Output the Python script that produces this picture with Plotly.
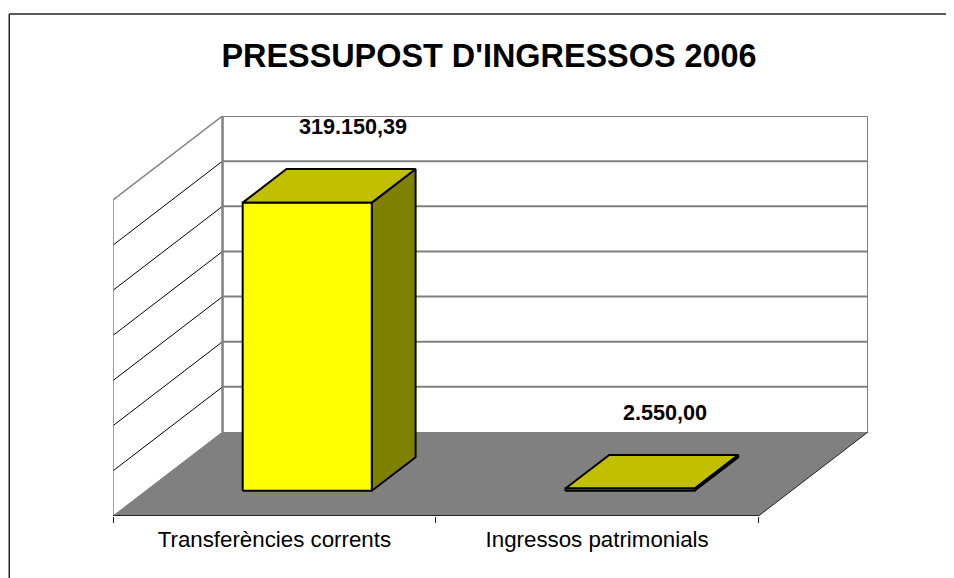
import plotly.graph_objects as go

TITLE = "PRESSUPOST D'INGRESSOS 2006"
CATEGORIES = ["Transferències corrents", "Ingressos patrimonials"]
VALUES = [319150.39, 2550.00]
LABELS = ["319.150,39", "2.550,00"]
GRID_VALUES = [0, 50000, 100000, 150000, 200000, 250000, 300000, 350000]

# the page body adds 8px on the top and left, so the figure is that much smaller
PAGE_MARGIN = 8
W, H = 954 - PAGE_MARGIN, 578 - PAGE_MARGIN
# plot box in pixels: front-left corner of the floor to back-right corner of the walls
LEFT, RIGHT, TOP, BOTTOM = 112.8 - PAGE_MARGIN, 868.3 - PAGE_MARGIN, 116 - PAGE_MARGIN, 516 - PAGE_MARGIN

YMAX = GRID_VALUES[-1]
NCAT = len(CATEGORIES)
# how far one full unit of depth moves a point, in axis units (oblique 3D look)
DEPTH_X = 109.6 / 322.95
DEPTH_Y = 84 / 316 * YMAX
BAR_W = 0.4
BAR_GAP = 0.3

GREY = "#808080"
BLACK = "#000000"


def proj(x, v, z):
    return x + z * DEPTH_X, v + z * DEPTH_Y


def path(points):
    xs, ys = zip(*[proj(*p) for p in points])
    return list(xs), list(ys)


fig = go.Figure()


def add_line(points, color, width):
    xs, ys = path(points)
    fig.add_trace(go.Scatter(x=xs, y=ys, mode="lines", line=dict(color=color, width=width),
                             hoverinfo="skip", showlegend=False, cliponaxis=False))


def add_face(points, fill, line_width=2):
    xs, ys = path(points + points[:1])
    fig.add_trace(go.Scatter(x=xs, y=ys, mode="lines", fill="toself", fillcolor=fill,
                             line=dict(color=BLACK, width=line_width),
                             hoverinfo="skip", showlegend=False, cliponaxis=False))


# floor
xs, ys = path([(0, 0, 0), (NCAT, 0, 0), (NCAT, 0, 1), (0, 0, 1), (0, 0, 0)])
fig.add_trace(go.Scatter(x=xs, y=ys, mode="lines", fill="toself", fillcolor=GREY,
                         line=dict(color=GREY, width=0), hoverinfo="skip",
                         showlegend=False, cliponaxis=False))

# back wall gridlines and side wall gridlines
for v in GRID_VALUES[1:-1]:
    add_line([(0, v, 1), (NCAT, v, 1)], GREY, 2)
    add_line([(0, v, 0), (0, v, 1)], BLACK, 1)
add_line([(0, YMAX, 1), (NCAT, YMAX, 1)], GREY, 2)
add_line([(0, YMAX, 0), (0, YMAX, 1)], GREY, 1.5)
add_line([(0, 0, 0), (0, YMAX, 0)], GREY, 1.5)
add_line([(0, 0, 1), (0, YMAX, 1)], GREY, 2.5)
add_line([(NCAT, 0, 1), (NCAT, YMAX, 1)], GREY, 2)
add_line([(NCAT, 0, 0), (NCAT, 0, 1)], "#222222", 1)
add_line([(0, 0, 0), (0, 0, 1)], GREY, 1)
add_line([(0, 0, 0), (NCAT, 0, 0)], "#222222", 2)

# bars: side, top, front
z0, z1 = BAR_GAP, BAR_GAP + BAR_W
for i, val in enumerate(VALUES):
    x0, x1 = i + BAR_GAP, i + BAR_GAP + BAR_W
    add_face([(x1, 0, z0), (x1, 0, z1), (x1, val, z1), (x1, val, z0)], "#808000")
    add_face([(x0, val, z0), (x1, val, z0), (x1, val, z1), (x0, val, z1)], "#C0C000", 2)
    add_face([(x0, 0, z0), (x1, 0, z0), (x1, val, z0), (x0, val, z0)], "#FFFF00")

# value labels, placed above the back of each bar top
LABEL_SHIFT = [(2, 43), (-9, 42)]
for i, val in enumerate(VALUES):
    lx, ly = proj(i + 0.5, val, z1)
    fig.add_annotation(x=lx, y=ly, text=f"<b>{LABELS[i]}</b>", showarrow=False, xanchor="center", yanchor="middle",
                       xshift=LABEL_SHIFT[i][0], yshift=LABEL_SHIFT[i][1],
                       font=dict(family="Liberation Sans", size=21.6, color=BLACK))

# outer chart frame, only the top and left edges are in view
fx = lambda px: (px - PAGE_MARGIN - LEFT) / (RIGHT - LEFT)
fy = lambda py: (BOTTOM - py + PAGE_MARGIN) / (BOTTOM - TOP)
fig.add_shape(type="line", xref="paper", yref="paper", x0=fx(9), x1=fx(954), y0=fy(14), y1=fy(14),
              line=dict(color="#222222", width=1.5))
fig.add_shape(type="line", xref="paper", yref="paper", x0=fx(9), x1=fx(9), y0=fy(14), y1=fy(578),
              line=dict(color="#222222", width=1.5))

fig.update_layout(
    width=W, height=H,
    margin=dict(l=LEFT, r=W - RIGHT, t=TOP, b=H - BOTTOM),
    paper_bgcolor="white", plot_bgcolor="white",
    showlegend=False,
    font=dict(family="Liberation Sans", color=BLACK),
    title=dict(text=f"<b>{TITLE}</b>", x=(489 - PAGE_MARGIN) / W, xanchor="center",
               y=1 - (55.5 - PAGE_MARGIN) / H, yanchor="middle",
               font=dict(family="Liberation Sans", size=32.4, color=BLACK)),
)
fig.update_xaxes(
    range=[0, NCAT + DEPTH_X], showgrid=False, zeroline=False, showline=False,
    tickmode="array", tickvals=[i + 0.5 for i in range(NCAT)], ticktext=CATEGORIES,
    ticks="", ticklabelstandoff=8, tickfont=dict(size=22.3, color=BLACK),
    minor=dict(tickmode="array", tickvals=list(range(NCAT + 1)), ticks="outside", ticklen=6,
               tickcolor="#222222", tickwidth=1, showgrid=False),
)
fig.update_yaxes(range=[0, YMAX + DEPTH_Y], visible=False)

fig.write_html("out.html")
